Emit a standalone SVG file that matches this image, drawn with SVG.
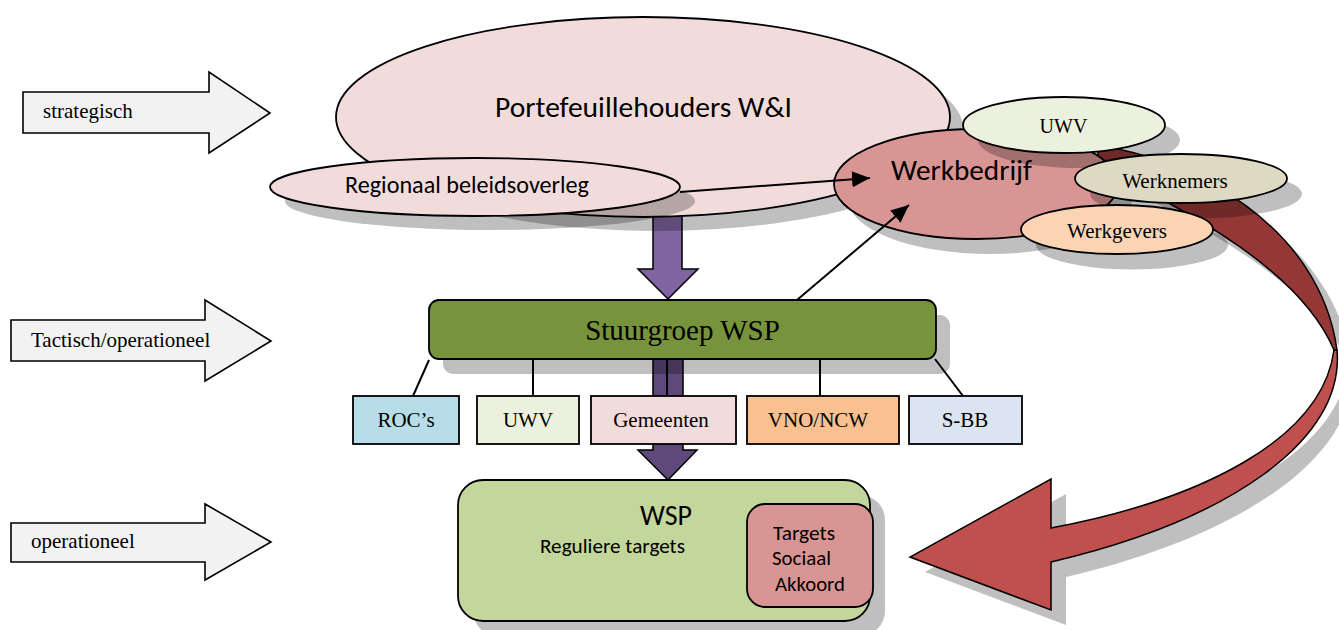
<svg xmlns="http://www.w3.org/2000/svg" width="1339" height="630" viewBox="0 0 1339 630">
<defs>
<style>
.ln{stroke:#000;stroke-width:2;}
.lvl{fill:#F2F2F2;stroke:#000;stroke-width:1.6;}
.sh{fill:#000;fill-opacity:0.25;stroke:none;}
.tm{font-family:"Liberation Serif","Times New Roman",serif;fill:#000;}
.cb{font-family:Carlito,Lato,"Liberation Sans",sans-serif;fill:#000;}
.box{stroke:#000;stroke-width:1.8;}
.con{stroke:#000;stroke-width:2;fill:none;}
</style>
<marker id="ah" markerUnits="userSpaceOnUse" markerWidth="20" markerHeight="16" refX="18" refY="8" orient="auto">
<path d="M0,0 L18,8 L0,16 Z" fill="#000"/>
</marker>
</defs>
<rect width="1339" height="630" fill="#fff"/>

<g id="level-strategisch">
<path class="lvl" d="M23,92 L209,92 L209,72 L270,113 L209,153 L209,133 L23,133 Z"/>
<text class="tm" x="43" y="118" font-size="21">strategisch</text>
</g>
<g id="level-tactisch">
<path class="lvl" d="M11,320 L205,320 L205,300 L271,341 L205,381 L205,361 L11,361 Z"/>
<text class="tm" x="31" y="347" font-size="21">Tactisch/operationeel</text>
</g>
<g id="level-operationeel">
<path class="lvl" d="M11,523 L205,523 L205,504 L271,542 L205,580 L205,562 L11,562 Z"/>
<text class="tm" x="31" y="548" font-size="21">operationeel</text>
</g>

<g id="red-curved-arrow">
<g transform="translate(15,15)">
<path class="sh" d="M1100,146 C1190,158 1320,225 1337,350 L1334,350 C1300,270 1190,212 1095,165 Z"/>
<path class="sh" d="M1337,350 C1345,440 1230,520 1051,562 L1051,610 L910,557 L1051,479 L1051,528 C1200,500 1322,440 1334,350 Z"/>
</g>
<path d="M1100,146 C1190,158 1320,225 1337,350 L1334,350 C1300,270 1190,212 1095,165 Z" fill="#953735" stroke="#000" stroke-width="1.5"/>
<path d="M1337,350 C1345,440 1230,520 1051,562 L1051,610 L910,557 L1051,479 L1051,528 C1200,500 1322,440 1334,350 Z" fill="#C0504D" stroke="#000" stroke-width="1.5"/>
</g>

<g id="block-arrow-top">
<path d="M653,200 L682,200 L682,269 L698,269 L668,299 L638,269 L653,269 Z" fill="#8064A2" stroke="#000" stroke-width="1.5"/>
</g>

<g id="portefeuillehouders">
<ellipse class="sh" cx="657" cy="131" rx="307" ry="100"/>
<ellipse cx="643" cy="117" rx="307" ry="100" fill="#F2DCDB" class="box"/>
<text class="cb" x="643.5" y="117" font-size="29" text-anchor="middle" textLength="297" lengthAdjust="spacingAndGlyphs">Portefeuillehouders W&amp;I</text>
</g>

<g id="regionaal">
<ellipse class="sh" cx="490" cy="201" rx="205" ry="29"/>
<ellipse cx="475" cy="187" rx="205" ry="29" fill="#F2DCDB" class="box"/>
<text class="cb" x="467" y="193" font-size="24" text-anchor="middle" textLength="244" lengthAdjust="spacingAndGlyphs">Regionaal beleidsoverleg</text>
</g>

<g id="werkbedrijf">
<ellipse class="sh" cx="990" cy="199" rx="142" ry="55"/>
<ellipse cx="976" cy="184" rx="142" ry="55" fill="#D99594" class="box"/>
<text class="cb" x="961.5" y="180" font-size="29" text-anchor="middle" textLength="141" lengthAdjust="spacingAndGlyphs">Werkbedrijf</text>
</g>

<g id="uwv-ellipse">
<ellipse class="sh" cx="1079" cy="140" rx="101" ry="28"/>
<ellipse cx="1064" cy="125" rx="101" ry="28" fill="#EBF1DE" class="box"/>
<text class="tm" x="1063.5" y="133" font-size="20" text-anchor="middle">UWV</text>
</g>

<g id="werknemers">
<ellipse class="sh" cx="1196" cy="194" rx="106" ry="24.5"/>
<ellipse cx="1181" cy="178.5" rx="106" ry="24.5" fill="#DDD9C3" class="box"/>
<text class="tm" x="1175" y="188" font-size="21" text-anchor="middle">Werknemers</text>
</g>

<g id="werkgevers">
<ellipse class="sh" cx="1132" cy="245" rx="96" ry="24.5"/>
<ellipse cx="1117" cy="229.5" rx="96" ry="24.5" fill="#FBD4B4" class="box"/>
<text class="tm" x="1117" y="238" font-size="21" text-anchor="middle">Werkgevers</text>
</g>

<g id="block-arrow-bottom">
<path d="M653,340 L683,340 L683,450 L697,450 L668,480 L638,450 L653,450 Z" fill="#5F497A" stroke="#000" stroke-width="1.5"/>
</g>

<g id="stuurgroep">
<rect class="sh" x="443" y="315" width="507" height="59" rx="10"/>
<rect x="429" y="300" width="507" height="59" rx="10" fill="#77933C" class="box"/>
<text class="tm" x="682.5" y="340" font-size="29" text-anchor="middle">Stuurgroep WSP</text>
</g>

<g id="roc">
<rect x="353" y="396" width="106" height="48" fill="#B7DDE8" class="box"/>
<text class="tm" x="406" y="427" font-size="21" text-anchor="middle">ROC’s</text>
</g>
<g id="uwv-box">
<rect x="477" y="396" width="102" height="48" fill="#EBF1DE" class="box"/>
<text class="tm" x="528" y="427" font-size="21" text-anchor="middle">UWV</text>
</g>
<g id="gemeenten">
<rect x="591" y="396" width="145" height="48" fill="#F2DCDB" class="box"/>
<text class="tm" x="661" y="427" font-size="21" text-anchor="middle">Gemeenten</text>
</g>
<g id="vno-ncw">
<rect x="747" y="396" width="152" height="48" fill="#FAC090" class="box"/>
<text class="tm" x="818" y="427" font-size="21" text-anchor="middle">VNO/NCW</text>
</g>
<g id="s-bb">
<rect x="909" y="396" width="113" height="48" fill="#DBE5F1" class="box"/>
<text class="tm" x="965" y="427" font-size="21" text-anchor="middle">S-BB</text>
</g>

<g id="wsp">
<rect class="sh" x="473" y="495" width="412" height="141" rx="25"/>
<rect x="458" y="480" width="412" height="141" rx="25" fill="#C3D69B" class="box"/>
<text class="cb" x="666" y="525" font-size="29" text-anchor="middle" textLength="52" lengthAdjust="spacingAndGlyphs">WSP</text>
<text class="cb" x="612.5" y="553" font-size="21" text-anchor="middle" textLength="145" lengthAdjust="spacingAndGlyphs">Reguliere targets</text>
</g>
<g id="targets-sociaal-akkoord">
<rect x="747" y="504" width="126" height="103" rx="18" fill="#D99594" class="box"/>
<text class="cb" x="804" y="540" font-size="21" text-anchor="middle" textLength="62" lengthAdjust="spacingAndGlyphs">Targets</text>
<text class="cb" x="801.5" y="565" font-size="21" text-anchor="middle" textLength="59" lengthAdjust="spacingAndGlyphs">Sociaal</text>
<text class="cb" x="810" y="591" font-size="21" text-anchor="middle" textLength="70" lengthAdjust="spacingAndGlyphs">Akkoord</text>
</g>

<g id="connectors">
<line class="con" x1="429" y1="360" x2="413" y2="396"/>
<line class="con" x1="533" y1="359" x2="533" y2="396"/>
<line class="con" x1="667" y1="359" x2="667" y2="396"/>
<line class="con" x1="820" y1="359" x2="820" y2="396"/>
<line class="con" x1="935" y1="359" x2="963" y2="396"/>
<line class="con" x1="680" y1="192" x2="870" y2="178" stroke-width="2.5" marker-end="url(#ah)"/>
<line class="con" x1="797" y1="300" x2="909" y2="205" stroke-width="2.5" marker-end="url(#ah)"/>
</g>
</svg>
